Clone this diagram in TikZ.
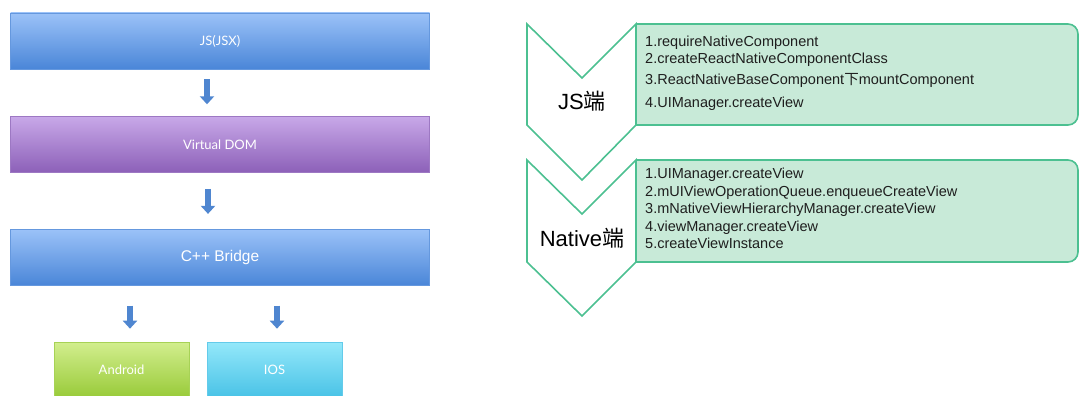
\documentclass[tikz,border=0pt]{standalone}
\usepackage{fontspec}
\setmainfont{Liberation Sans}
\newfontfamily\cjk{Noto Sans CJK SC}
\newfontfamily\boxfont{Lato}
\usetikzlibrary{positioning,arrows.meta}

\definecolor{panelfill}{HTML}{C8EAD8}
\definecolor{panelline}{HTML}{4CC091}
\definecolor{arrowblue}{HTML}{4F86D0}
\definecolor{listtext}{HTML}{1E1E1E}
\definecolor{bluetop}{RGB}{155,194,248}
\definecolor{bluebot}{RGB}{74,134,216}
\definecolor{violettop}{RGB}{200,168,232}
\definecolor{violetbot}{RGB}{140,96,184}
\definecolor{greentop}{RGB}{210,238,142}
\definecolor{greenbot}{RGB}{152,202,56}
\definecolor{cyantop}{RGB}{148,232,250}
\definecolor{cyanbot}{RGB}{72,194,230}

\begin{document}
\begin{tikzpicture}[x=1pt, y=-1pt, >=Stealth,
    layer/.style={draw=#1bot!85!white, top color=#1top, bottom color=#1bot, line width=0.6pt,
        minimum width=419pt, minimum height=56pt, inner sep=0pt,
        text=white, font=\boxfont\fontsize{13}{15}\selectfont},
    flow/.style={draw=arrowblue, line width=6.5pt, -{Triangle[width=14pt,length=8pt]}},
    side/.style={draw=panelline, line width=1.6pt, fill=white, line join=miter},
    panel/.style={draw=panelline, fill=panelfill, line width=1.6pt, rounded corners=10pt},
    item/.style={anchor=mid west, inner sep=0pt, text=listtext, font=\fontsize{14.5}{16}\selectfont},
    sidelabel/.style={inner sep=0pt, text=black, font=\fontsize{22}{24}\selectfont}]

  \clip (0,0) rectangle (1080,396);

  % left: layers
  \node[layer=blue] (jsx) at (220,41) {JS(JSX)};
  \node[layer=violet, below=47pt of jsx] (vdom) {Virtual DOM};
  \node[layer=blue, below=56pt of vdom, font=\fontsize{15.5}{17}\selectfont] (bridge) {C++ Bridge};
  \node[layer=green, minimum width=135pt] (android) at (121.5,370) {Android};
  \node[layer=cyan, minimum width=135pt] (ios) at (274.5,370) {IOS};

  \draw[flow, shorten <=10pt, shorten >=12pt] ([xshift=-13pt]jsx.south) -- ([xshift=-13pt]vdom.north);
  \draw[flow, shorten <=16pt, shorten >=15pt] ([xshift=-12pt]vdom.south) -- ([xshift=-12pt]vdom.south |- bridge.north);
  \draw[flow, shorten <=20pt, shorten >=13pt] ([xshift=8.5pt]android.north |- bridge.south) -- ([xshift=8.5pt]android.north);
  \draw[flow, shorten <=20pt, shorten >=13pt] ([xshift=2.5pt]ios.north |- bridge.south) -- ([xshift=2.5pt]ios.north);

  % right: JS side
  \path[panel] (636,24) -- (1078,24) -- (1078,125) -- (636,125);
  \draw[side] (527,24) -- (582,78) -- (636,24) -- (636,125) -- (582,180) -- (527,125) -- cycle;
  \node[sidelabel] (jsside) at (582,101) {JS{\cjk 端}};
  \node[item] (js1) at (645,43.5) {1.requireNativeComponent};
  \node[item] (js2) at (645,61) {2.createReactNativeComponentClass};
  \node[item] (js3) at (645,81.5) {3.ReactNativeBaseComponent{\cjk 下}mountComponent};
  \node[item] (js4) at (645,104.5) {4.UIManager.createView};

  % right: Native side
  \path[panel] (636,160) -- (1078,160) -- (1078,262) -- (636,262);
  \draw[side] (527,160) -- (582,214) -- (636,160) -- (636,262) -- (582,316) -- (527,262) -- cycle;
  \node[sidelabel] (nativeside) at (582,238) {Native{\cjk 端}};
  \node[item] (na1) at (645,176) {1.UIManager.createView};
  \node[item] (na2) at (645,193.5) {2.mUIViewOperationQueue.enqueueCreateView};
  \node[item] (na3) at (645,211) {3.mNativeViewHierarchyManager.createView};
  \node[item] (na4) at (645,228.5) {4.viewManager.createView};
  \node[item] (na5) at (645,246) {5.createViewInstance};
\end{tikzpicture}
\end{document}
